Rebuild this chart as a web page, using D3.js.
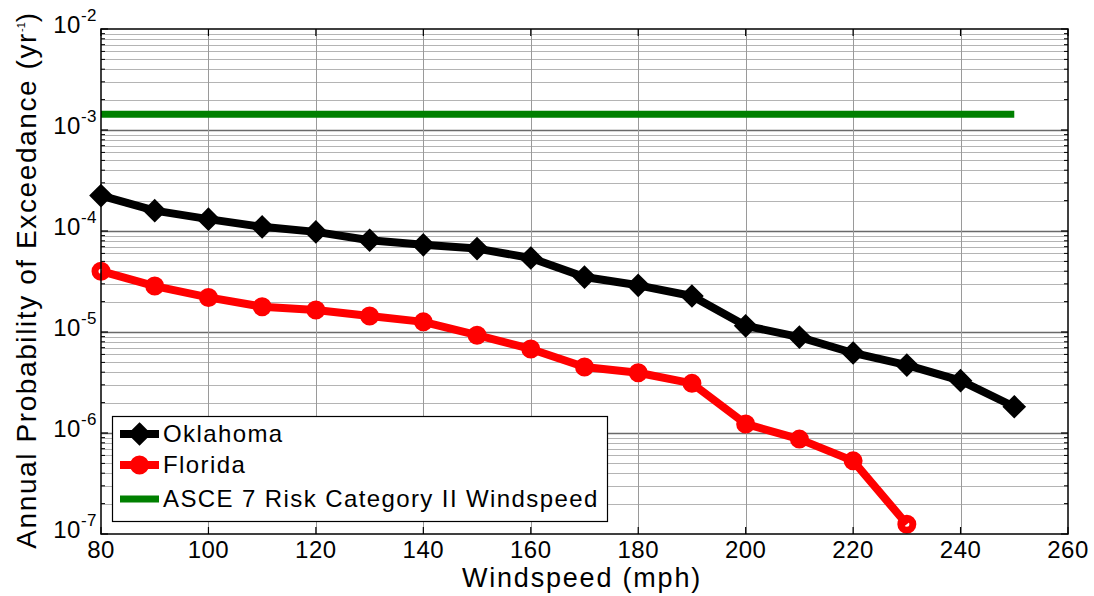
<!DOCTYPE html>
<html>
<head>
  <script src="https://cdn.jsdelivr.net/npm/d3@7/dist/d3.min.js" type="text/Javascript"></script>
  <title>Annual Probability of Exceedance</title>
  <style>
    body { margin: 0; background: #fff; }
    svg text { font-family: "Liberation Sans", Arial, Helvetica, sans-serif; fill: #000; }
  </style>
</head>
<body>
  <svg id="chart" width="1094" height="596"></svg>
  <script type="text/Javascript">

    // windspeeds (mph)
    var windspeed = [80, 90, 100, 110, 120, 130, 140, 150, 160, 170, 180, 190, 200, 210, 220, 230, 240, 250];
    var oklahoma = [2.24e-4, 1.59e-4, 1.31e-4, 1.10e-4, 9.8e-5, 8.1e-5, 7.3e-5, 6.7e-5, 5.4e-5,
                    3.5e-5, 2.9e-5, 2.27e-5, 1.15e-5, 8.9e-6, 6.2e-6, 4.7e-6, 3.3e-6, 1.82e-6];
    var floridaSpeed = [80, 90, 100, 110, 120, 130, 140, 150, 160, 170, 180, 190, 200, 210, 220, 230];
    var florida = [4.0e-5, 2.85e-5, 2.2e-5, 1.78e-5, 1.65e-5, 1.44e-5, 1.26e-5, 9.3e-6, 6.8e-6,
                   4.5e-6, 3.95e-6, 3.1e-6, 1.23e-6, 8.7e-7, 5.3e-7, 1.25e-7];
    // ASCE 7 Risk Category II -> 700 yr return period
    var asceSpeed = [80, 250];
    var asce = [1 / 700, 1 / 700];

    var xTicks = [80, 100, 120, 140, 160, 180, 200, 220, 240, 260];
    var yExponents = [-7, -6, -5, -4, -3, -2];
    var legendLabels = ["Oklahoma", "Florida", "ASCE 7 Risk Category II Windspeed"];

    var svg = d3.select("#chart");
    var pLeft = 101, pRight = 1068, pTop = 29, pBottom = 534;

    var x = d3.scaleLinear().domain([80, 260]).range([pLeft, pRight]);
    var y = d3.scaleLog().domain([1e-7, 1e-2]).range([pBottom, pTop]);

    // grid
    var minor = [];
    yExponents.forEach(function(e) {
      if (e == -2) return;
      for (var k = 2; k <= 9; k++) minor.push(k * Math.pow(10, e));
    });
    var grid = svg.append("g");
    grid.selectAll(".ymin").data(minor).enter().append("line")
      .attr("x1", pLeft).attr("x2", pRight)
      .attr("y1", function(d) { return Math.round(y(d)) + 0.5; })
      .attr("y2", function(d) { return Math.round(y(d)) + 0.5; })
      .style("stroke", "#b4b4b4").style("stroke-width", "1px");
    grid.selectAll(".ymaj").data(yExponents.slice(1, 5)).enter().append("line")
      .attr("x1", pLeft).attr("x2", pRight)
      .attr("y1", function(d) { return Math.round(y(Math.pow(10, d))) + 0.5; })
      .attr("y2", function(d) { return Math.round(y(Math.pow(10, d))) + 0.5; })
      .style("stroke", "#6a6a6a").style("stroke-width", "1.3px");
    grid.selectAll(".xg").data(xTicks.slice(1, -1)).enter().append("line")
      .attr("y1", pTop).attr("y2", pBottom)
      .attr("x1", function(d) { return Math.round(x(d)) + 0.5; })
      .attr("x2", function(d) { return Math.round(x(d)) + 0.5; })
      .style("stroke", "#9a9a9a").style("stroke-width", "1px");

    // axes ticks (inward, both sides)
    var ax = svg.append("g").style("stroke", "#000");
    xTicks.forEach(function(t) {
      ax.append("line").attr("x1", x(t)).attr("x2", x(t)).attr("y1", pBottom).attr("y2", pBottom - 7).style("stroke-width", "1.2px");
      ax.append("line").attr("x1", x(t)).attr("x2", x(t)).attr("y1", pTop).attr("y2", pTop + 7).style("stroke-width", "1.2px");
    });
    minor.forEach(function(v) {
      ax.append("line").attr("x1", pLeft).attr("x2", pLeft + 4).attr("y1", y(v)).attr("y2", y(v)).style("stroke-width", "1px");
      ax.append("line").attr("x1", pRight).attr("x2", pRight - 4).attr("y1", y(v)).attr("y2", y(v)).style("stroke-width", "1px");
    });
    yExponents.forEach(function(e) {
      var v = Math.pow(10, e);
      ax.append("line").attr("x1", pLeft).attr("x2", pLeft + 7).attr("y1", y(v)).attr("y2", y(v)).style("stroke-width", "1.2px");
      ax.append("line").attr("x1", pRight).attr("x2", pRight - 7).attr("y1", y(v)).attr("y2", y(v)).style("stroke-width", "1.2px");
    });

    // data lines
    var line = d3.line().x(function(d) { return x(d[0]); }).y(function(d) { return y(d[1]); });

    svg.append("path").datum(d3.zip(asceSpeed, asce)).attr("d", line)
      .style("fill", "none").style("stroke", "#008000").style("stroke-width", "7px");

    svg.append("path").datum(d3.zip(floridaSpeed, florida)).attr("d", line)
      .style("fill", "none").style("stroke", "#ff0000").style("stroke-width", "8px").style("stroke-linejoin", "round");
    svg.selectAll(".fl").data(d3.zip(floridaSpeed, florida)).enter().append("circle")
      .attr("cx", function(d) { return x(d[0]); }).attr("cy", function(d) { return y(d[1]); })
      .attr("r", 6).style("fill", "none").style("stroke", "#ff0000").style("stroke-width", "7px");

    svg.append("path").datum(d3.zip(windspeed, oklahoma)).attr("d", line)
      .style("fill", "none").style("stroke", "#000").style("stroke-width", "8px").style("stroke-linejoin", "round");
    var diamond = "M0,-9L9,0L0,9L-9,0Z";
    svg.selectAll(".ok").data(d3.zip(windspeed, oklahoma)).enter().append("path")
      .attr("d", diamond)
      .attr("transform", function(d) { return "translate(" + x(d[0]) + "," + y(d[1]) + ")"; })
      .style("fill", "#000").style("stroke", "#000").style("stroke-width", "4px").style("stroke-linejoin", "miter");

    // frame
    svg.append("rect").attr("x", pLeft).attr("y", pTop).attr("width", pRight - pLeft).attr("height", pBottom - pTop)
      .style("fill", "none").style("stroke", "#000").style("stroke-width", "1.5px");

    // tick labels
    svg.selectAll(".xl").data(xTicks).enter().append("text")
      .attr("x", function(d) { return x(d); }).attr("y", 558)
      .attr("text-anchor", "middle").style("font-size", "24px").style("letter-spacing", "0.5px")
      .text(function(d) { return d; });

    yExponents.forEach(function(e) {
      var t = svg.append("text").attr("x", 97).attr("y", y(Math.pow(10, e)) + 4)
        .attr("text-anchor", "end").style("font-size", "24px").style("letter-spacing", "0.5px");
      t.append("tspan").text("10");
      t.append("tspan").attr("dy", -12).style("font-size", "17px").text(e);
    });

    // axis titles
    svg.append("text").attr("x", 582).attr("y", 587).attr("text-anchor", "middle")
      .style("font-size", "27px").style("letter-spacing", "1.8px").text("Windspeed (mph)");
    var yt = svg.append("text").attr("transform", "translate(36,280) rotate(-90)")
      .attr("text-anchor", "middle").style("font-size", "28px").style("letter-spacing", "1.6px");
    yt.append("tspan").text("Annual Probability of Exceedance (yr");
    yt.append("tspan").attr("dy", -11).style("font-size", "11px").style("letter-spacing", "0px").text("-1");
    yt.append("tspan").attr("dy", 11).text(")");

    // legend
    var lg = svg.append("g");
    lg.append("rect").attr("x", 112.5).attr("y", 416.5).attr("width", 495).attr("height", 105)
      .style("fill", "#fff").style("stroke", "#000").style("stroke-width", "1.2px");
    var rows = [434, 465, 499];
    var colors = ["#000", "#ff0000", "#008000"];
    legendLabels.forEach(function(lab, i) {
      lg.append("line").attr("x1", 120).attr("x2", 159).attr("y1", rows[i]).attr("y2", rows[i])
        .style("stroke", colors[i]).style("stroke-width", i == 2 ? "7px" : "8px");
      if (i == 0) {
        lg.append("path").attr("d", diamond).attr("transform", "translate(139.5," + rows[i] + ")")
          .style("fill", "#000").style("stroke", "#000").style("stroke-width", "4px");
      } else if (i == 1) {
        lg.append("circle").attr("cx", 139.5).attr("cy", rows[i]).attr("r", 6)
          .style("fill", "none").style("stroke", "#ff0000").style("stroke-width", "7px");
      }
      lg.append("text").attr("x", 163).attr("y", rows[i] + 8).style("font-size", "24px")
        .style("letter-spacing", "1.4px").text(lab);
    });
  </script>
</body>
</html>
